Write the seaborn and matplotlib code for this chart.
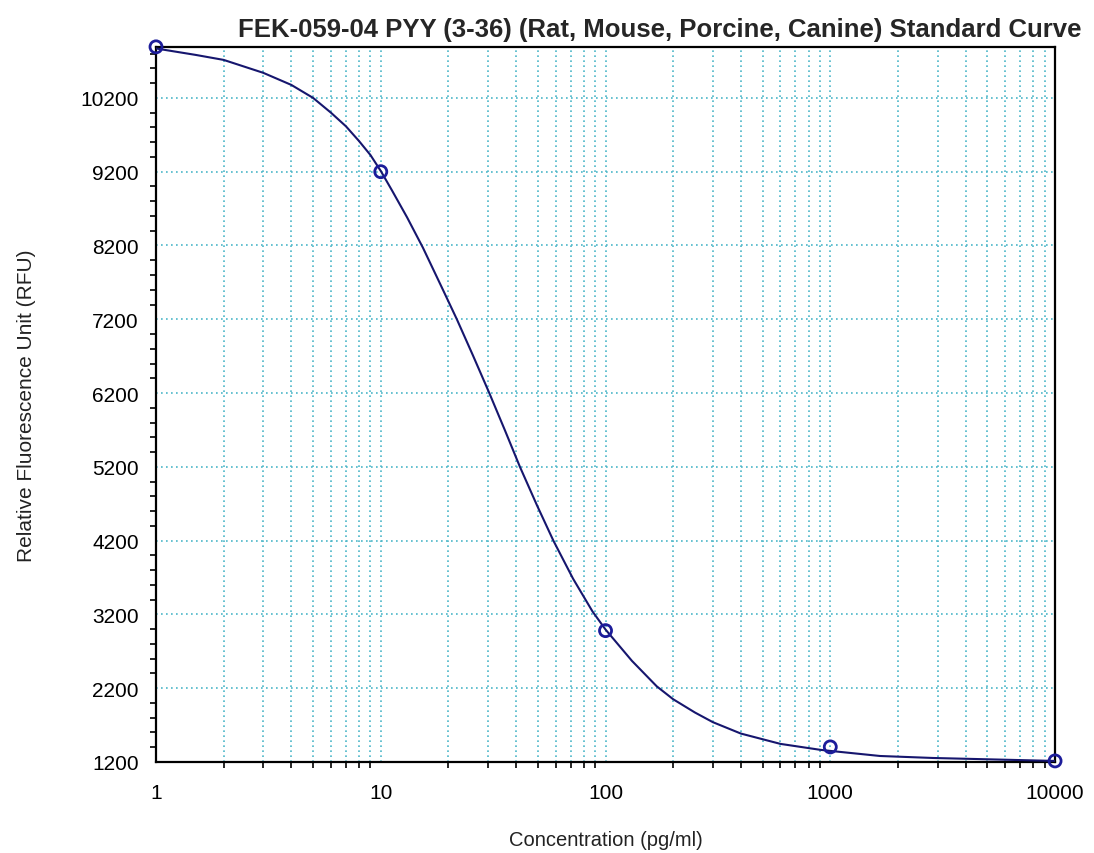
import numpy as np
import pandas as pd
import matplotlib
matplotlib.use('Agg')
import matplotlib.pyplot as plt
import matplotlib.ticker as mticker
import seaborn as sns

# Standards (concentration pg/ml, RFU)
std_conc = [1, 10, 100, 1000, 10000]
std_rfu = [10892, 9200, 2980, 1404, 1214]

# Fitted curve
curve_conc = [1.0, 1.5, 2, 3, 4, 5, 6, 7, 8, 9, 10, 11.2, 13.1, 15.4, 18.7,
              21.8, 25.7, 30.4, 35.7, 41.6, 49.6, 58.6, 71.7, 87.5, 100,
              131, 169, 200, 250, 300, 400, 600, 900, 1000, 1665, 2865, 10000]
curve_rfu = [10870, 10783, 10715, 10540, 10376, 10200, 10000, 9815, 9616,
             9425, 9210, 8950, 8580, 8170, 7630, 7200, 6711, 6200, 5693,
             5200, 4675, 4200, 3684, 3240, 2995, 2571, 2225, 2050, 1870,
             1740, 1585, 1445, 1365, 1350, 1281, 1254, 1214]

y_ticks = list(range(1200, 10201, 1000))

title = 'FEK-059-04 PYY (3-36) (Rat, Mouse, Porcine, Canine) Standard Curve'
x_label = 'Concentration (pg/ml)'
y_label = 'Relative Fluorescence Unit (RFU)'

sns.set_style('white')
plt.rcParams['font.family'] = ['Liberation Sans', 'DejaVu Sans']

std_df = pd.DataFrame({'conc': std_conc, 'rfu': std_rfu})
curve_df = pd.DataFrame({'conc': curve_conc, 'rfu': curve_rfu})

fig = plt.figure(figsize=(10.94, 8.54), dpi=100)
ax = fig.add_axes([0.1426, 0.1066, 0.8218, 0.8372])

grid_color = '#4cb6c8'
ax.set_xscale('log')
ax.set_xlim(1, 10000)
ax.set_ylim(1200, 10890)

sns.lineplot(data=curve_df, x='conc', y='rfu', ax=ax, color='#16166e',
             linewidth=1.5, zorder=3)
sns.scatterplot(data=std_df, x='conc', y='rfu', ax=ax, marker='o', s=75,
                facecolor='none', edgecolor='#1c1c9a', linewidth=2,
                zorder=4, clip_on=False)

ax.set_yticks(y_ticks)
ax.yaxis.set_minor_locator(mticker.MultipleLocator(200))
ax.xaxis.set_major_locator(mticker.LogLocator(base=10))
ax.xaxis.set_minor_locator(mticker.LogLocator(base=10, subs=np.arange(2, 10)))
ax.xaxis.set_major_formatter(mticker.FuncFormatter(lambda v, p: f'{int(round(v))}'))
ax.xaxis.set_minor_formatter(mticker.NullFormatter())

ax.grid(True, which='both', axis='x', color=grid_color, linestyle=(0, (1, 2)),
        linewidth=1.2)
ax.grid(True, which='major', axis='y', color=grid_color, linestyle=(0, (1, 2)),
        linewidth=1.2)
ax.set_axisbelow(True)

for side in ['left', 'bottom', 'top', 'right']:
    ax.spines[side].set_color('black')
    ax.spines[side].set_linewidth(1.6)

ax.tick_params(axis='y', which='major', direction='out', length=8.5, width=1.4,
               labelsize=15, colors='black', pad=4)
ax.tick_params(axis='y', which='minor', direction='out', length=4.5, width=1.4,
               left=True)
ax.tick_params(axis='x', which='major', direction='out', length=9, width=1.4,
               labelsize=15, colors='black', pad=6)
ax.tick_params(axis='x', which='minor', direction='out', length=4, width=1.4,
               bottom=True)

ax.set_xlabel(x_label, fontsize=14.5, labelpad=20, color='#222222')
ax.set_ylabel(y_label, fontsize=15, labelpad=32, color='#222222')
# title sits right of the axes centre in the original
ax.set_title(title, fontsize=18.5, fontweight='bold', pad=8, x=0.56)

fig.savefig('out.png', dpi=100)
